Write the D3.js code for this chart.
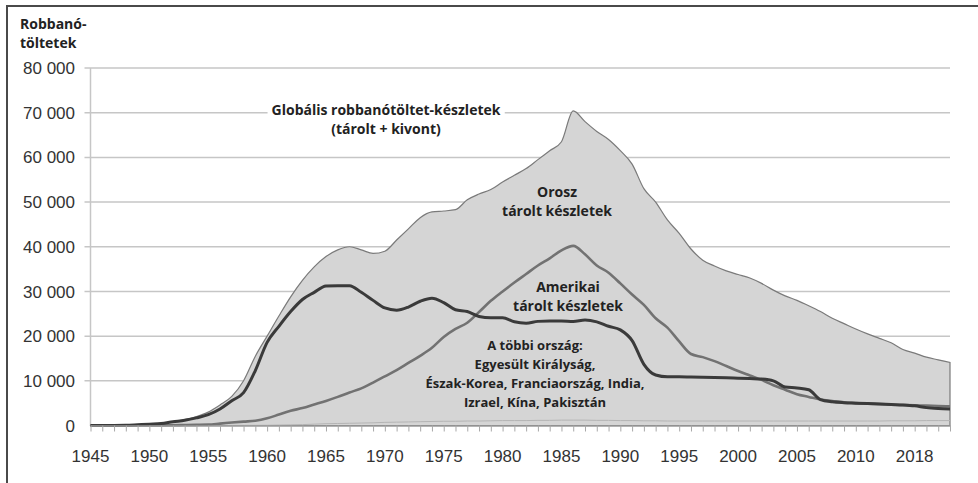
<!DOCTYPE html>
<html>
<head>
<meta charset="utf-8">
<script src="https://cdn.jsdelivr.net/npm/d3@7"></script>
<style>
  body { margin: 0; background: #fff; }
  svg { display: block; }
  .ylab, .xlab { font-family: "Liberation Sans", Arial, sans-serif; font-size: 17px; fill: #333; }
  .note { font-family: "Open Sans", sans-serif; font-weight: 700; font-size: 13px; fill: #222; }
</style>
</head>
<body>
<div id="chart"></div>
<script>
// years on the x axis
const years = d3.range(1945, 2019);

// global warheads (stored + retired)
const globalTotal = [
  2, 9, 13, 50, 170, 300, 440, 850, 1300, 2000,
  3000, 4600, 6500, 10000, 15500, 20000, 24500, 28800, 32500, 35500,
  37800, 39300, 40000, 39300, 38500, 39000, 41500, 44000, 46500, 47800,
  48000, 48300, 50500, 51800, 52800, 54500, 56000, 57500, 59500, 61500,
  63500, 70400, 68000, 65800, 64000, 61500, 58500, 53000, 50000, 46000,
  43000, 39500, 37000, 35700, 34600, 33800, 33000, 31800, 30300, 29000,
  28000, 26800, 25500, 24000, 22800, 21600, 20500, 19500, 18500, 17000,
  16200, 15300, 14700, 14100
];

// dark line (peaks ~31 000 in the 1960s)
const usStockpile = [
  2, 9, 13, 50, 170, 299, 438, 841, 1169, 1703,
  2422, 3692, 5543, 7345, 12300, 18600, 22200, 25500, 28200, 29800,
  31200, 31300, 31300, 29800, 28000, 26300, 25800, 26500, 27800, 28500,
  27500, 25900, 25500, 24400, 24100, 24100, 23200, 22900, 23300, 23400,
  23400, 23300, 23600, 23200, 22200, 21400, 19000, 13700, 11300, 10900,
  10900, 10850, 10800, 10750, 10700, 10600, 10500, 10400, 10000, 8600,
  8400, 8000, 5800, 5300, 5100, 5000, 4900, 4800, 4700, 4600,
  4400, 4000, 3800, 3700
];

// medium grey line (peaks ~40 000 in 1986)
const russiaStockpile = [
  0, 0, 0, 0, 1, 5, 25, 50, 120, 150,
  200, 426, 660, 869, 1060, 1600, 2450, 3300, 3900, 4700,
  5500, 6400, 7400, 8300, 9600, 11000, 12400, 14000, 15600, 17400,
  19800, 21600, 23000, 25400, 27900, 30000, 32000, 33900, 35800, 37400,
  39200, 40200, 38300, 35800, 34200, 31800, 29300, 27000, 24000, 21900,
  18800, 16000, 15300, 14400, 13300, 12200, 11200, 10200, 9000, 8000,
  7000, 6400, 5800, 5500, 5200, 5000, 4900, 4800, 4700, 4600,
  4500, 4450, 4350, 4300
];

// the other countries, a faint line just above zero
const otherCountries = [
  0, 0, 0, 0, 0, 0, 0, 1, 5, 10,
  15, 20, 25, 30, 40, 50, 100, 150, 200, 300,
  400, 450, 500, 550, 600, 700, 750, 800, 850, 900,
  950, 950, 1000, 1000, 1050, 1100, 1100, 1100, 1150, 1150,
  1200, 1200, 1200, 1150, 1150, 1100, 1100, 1050, 1050, 1000,
  1000, 1000, 1000, 1000, 1000, 1000, 1000, 1000, 1000, 1000,
  1000, 1000, 1000, 1000, 1000, 1000, 1000, 1000, 1050, 1050,
  1050, 1100, 1100, 1100
];

const yTicks = [0, 10000, 20000, 30000, 40000, 50000, 60000, 70000, 80000];
const xTickYears = [1945, 1950, 1955, 1960, 1965, 1970, 1975, 1980, 1985, 1990, 1995, 2000, 2005, 2010, 2015];
const xTickLabels = ["1945", "1950", "1955", "1960", "1965", "1970", "1975", "1980", "1985", "1990", "1995", "2000", "2005", "2010", "2018"];

const W = 978, H = 483;
const margin = {top: 68, right: 28, bottom: 57, left: 90.5};

const svg = d3.select("#chart").append("svg")
    .attr("width", W)
    .attr("height", H);

// outer frame (only top and left edges show)
svg.append("rect")
    .attr("x", 7).attr("y", 6)
    .attr("width", W + 20).attr("height", H + 20)
    .attr("fill", "none")
    .attr("stroke", "#4a4a4a")
    .attr("stroke-width", 2);

const x = d3.scaleLinear().domain([1945, 2018]).range([margin.left, W - margin.right]);
const y = d3.scaleLinear().domain([0, 80000]).range([H - margin.bottom - 0.5, margin.top]);

// gridlines
svg.append("g")
    .selectAll("line")
    .data(yTicks.slice(1))
    .join("line")
    .attr("x1", margin.left - 6)
    .attr("x2", x(2018))
    .attr("y1", d => y(d))
    .attr("y2", d => y(d))
    .attr("stroke", "#c6c6c6")
    .attr("stroke-width", 1.5);

// y axis line
svg.append("line")
    .attr("x1", margin.left).attr("x2", margin.left)
    .attr("y1", y(80000)).attr("y2", y(0))
    .attr("stroke", "#c6c6c6")
    .attr("stroke-width", 1.5);

// y labels
svg.append("g")
    .selectAll("text")
    .data(yTicks)
    .join("text")
    .attr("class", "ylab")
    .attr("x", 75)
    .attr("y", d => y(d))
    .attr("dy", "0.36em")
    .attr("text-anchor", "end")
    .text(d => d === 0 ? "0" : d3.format(",")(d).replace(/,/g, " "));

// global area
const area = d3.area()
    .x((d, i) => x(years[i]))
    .y0(y(0))
    .y1(d => y(d))
    .curve(d3.curveMonotoneX);

svg.append("path")
    .datum(globalTotal)
    .attr("d", area)
    .attr("fill", "#d5d5d5")
    .attr("stroke", "#7a7a7a")
    .attr("stroke-width", 1.2);

const line = d3.line()
    .x((d, i) => x(years[i]))
    .y(d => y(d))
    .curve(d3.curveMonotoneX);

svg.append("path")
    .datum(otherCountries)
    .attr("d", line)
    .attr("fill", "none")
    .attr("stroke", "#b4b4b4")
    .attr("stroke-width", 1);

svg.append("path")
    .datum(russiaStockpile)
    .attr("d", line)
    .attr("fill", "none")
    .attr("stroke", "#727272")
    .attr("stroke-width", 2.6);

svg.append("path")
    .datum(usStockpile)
    .attr("d", line)
    .attr("fill", "none")
    .attr("stroke", "#3a3a3a")
    .attr("stroke-width", 3);

// x axis with a tick for every year
const labelOf = new Map(xTickYears.map((d, i) => [d, xTickLabels[i]]));
const xAxis = svg.append("g")
    .attr("transform", "translate(0," + y(0) + ")")
    .call(d3.axisBottom(x).tickValues(years).tickSize(6).tickSizeOuter(0).tickFormat(""));
xAxis.select(".domain").attr("stroke", "#9a9a9a").attr("stroke-width", 1.5);
xAxis.selectAll(".tick line").attr("stroke", "#a8a8a8");

svg.append("g")
    .selectAll("text")
    .data(xTickYears)
    .join("text")
    .attr("class", "xlab")
    .attr("x", d => x(d))
    .attr("y", 462)
    .attr("text-anchor", "middle")
    .text(d => labelOf.get(d));

// axis title
svg.append("text")
    .attr("class", "note")
    .style("font-size", "14px")
    .selectAll("tspan")
    .data(["Robbanó-", "töltetek"])
    .join("tspan")
    .attr("x", 20)
    .attr("y", (d, i) => 29 + i * 19)
    .text(d => d);

function note(lines, cx, y0, step, size, bg) {
    const g = svg.append("g");
    const t = g.append("text")
        .attr("class", "note")
        .style("font-size", size + "px")
        .attr("text-anchor", "middle");
    t.selectAll("tspan")
        .data(lines)
        .join("tspan")
        .attr("x", cx)
        .attr("y", (d, i) => y0 + i * step)
        .text(d => d);
    if (bg) {
        const b = t.node().getBBox();
        g.insert("rect", "text")
            .attr("x", b.x - 4).attr("y", b.y - 2)
            .attr("width", b.width + 8).attr("height", b.height + 4)
            .attr("fill", "#fff");
    }
}

note(["Globális robbanótöltet-készletek", "(tárolt + kivont)"], 386, 115, 19, 14, true);
note(["Orosz", "tárolt készletek"], 557, 197, 19, 14, false);
note(["Amerikai", "tárolt készletek"], 568, 292, 19, 14, false);
note(["A többi ország:", "Egyesült Királyság,", "Észak-Korea, Franciaország, India,", "Izrael, Kína, Pakisztán"], 535, 350, 19, 13, false);
</script>
</body>
</html>
